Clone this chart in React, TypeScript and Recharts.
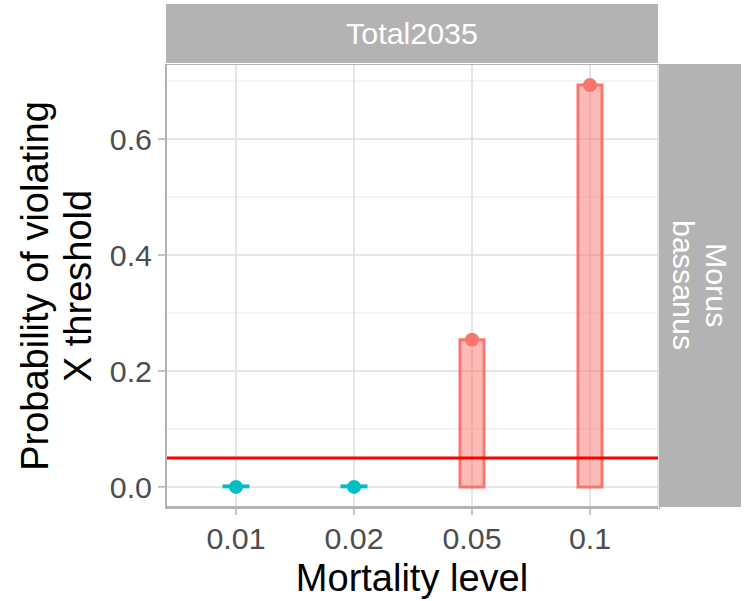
import React from "react";
import {
  Bar,
  CartesianGrid,
  Cell,
  ComposedChart,
  ReferenceLine,
  Scatter,
  XAxis,
  YAxis,
} from "recharts";

// Mortality levels on the x axis and the probability of violating the threshold
const mortalityLevels = ["0.01", "0.02", "0.05", "0.1"];
const violationProb = [0, 0, 0.254, 0.693];
const aboveThreshold = [false, false, true, true];

const THRESHOLD = 0.05;
const yMajorTicks = [0, 0.2, 0.4, 0.6];
const yMinorTicks = [0.1, 0.3, 0.5, 0.7];

const RED = "#F8766D";
const TEAL = "#00BFC4";
const STRIP = "#B3B3B3";
const FONT = "'Liberation Sans', Arial, Helvetica, sans-serif";

const data = mortalityLevels.map((level, i) => ({
  level,
  prob: violationProb[i],
  color: aboveThreshold[i] ? RED : TEAL,
}));

const W = 744;
const H = 601;
const PLOT = { left: 166, top: 65, right: 658, bottom: 507 };

function YTitle({ viewBox }: any) {
  const cy = viewBox.y + viewBox.height / 2;
  return (
    <text
      transform={`translate(0, ${cy}) rotate(-90)`}
      textAnchor="middle"
      fontFamily={FONT}
      fontSize={38}
      fill="#000"
    >
      <tspan x={0} y={48}>
        Probability of violating
      </tspan>
      <tspan x={0} y={91}>
        X threshold
      </tspan>
    </text>
  );
}

function XTitle({ viewBox }: any) {
  return (
    <text
      x={viewBox.x + viewBox.width / 2}
      y={viewBox.y + 84}
      textAnchor="middle"
      fontFamily={FONT}
      fontSize={38}
      fill="#000"
    >
      Mortality level
    </text>
  );
}

function Dot(props: any) {
  const { cx, cy, payload } = props;
  return <circle cx={cx} cy={cy} r={7} fill={payload.color} />;
}

export default function App() {
  return (
    <div
      style={{
        position: "absolute",
        left: 0,
        top: 0,
        width: W,
        height: H,
        background: "#fff",
        fontFamily: FONT,
      }}
    >
      <ComposedChart
        width={W}
        height={H}
        data={data}
        margin={{ top: PLOT.top, right: W - PLOT.right, bottom: 0, left: 0 }}
      >
        <CartesianGrid
          horizontalValues={yMinorTicks}
          vertical={false}
          stroke="#EBEBEB"
          strokeWidth={1}
        />
        <CartesianGrid
          horizontalValues={yMajorTicks}
          stroke="#DEDEDE"
          strokeWidth={1.5}
        />
        <XAxis
          dataKey="level"
          type="category"
          height={H - PLOT.bottom}
          padding={{ left: 11, right: 9 }}
          axisLine={{ stroke: STRIP, strokeWidth: 2 }}
          tickLine={{ stroke: STRIP, strokeWidth: 1.5 }}
          tickSize={8}
          tickMargin={12}
          tick={{ fill: "#4D4D4D", fontSize: 30.4, fontFamily: FONT }}
          label={<XTitle />}
        />
        <YAxis
          type="number"
          width={PLOT.left}
          domain={[-0.0347, 0.7277]}
          ticks={yMajorTicks}
          allowDataOverflow
          tickFormatter={(v: number) => v.toFixed(1)}
          axisLine={{ stroke: STRIP, strokeWidth: 2 }}
          tickLine={{ stroke: STRIP, strokeWidth: 1.5 }}
          tickSize={8}
          tickMargin={6}
          tick={{ fill: "#4D4D4D", fontSize: 30.4, fontFamily: FONT }}
          label={<YTitle />}
        />
        <Bar
          dataKey="prob"
          barSize={24}
          minPointSize={1}
          fillOpacity={0.5}
          strokeWidth={3}
          isAnimationActive={false}
        >
          {data.map((d) => (
            <Cell key={d.level} fill={d.color} stroke={d.color} />
          ))}
        </Bar>
        <ReferenceLine y={THRESHOLD} stroke="#FF0000" strokeWidth={3} />
        <Scatter dataKey="prob" shape={<Dot />} isAnimationActive={false} />
      </ComposedChart>

      {/* panel border */}
      <div
        style={{
          position: "absolute",
          left: PLOT.left - 1,
          top: PLOT.top - 1,
          width: PLOT.right - PLOT.left + 1,
          height: PLOT.bottom - PLOT.top + 1,
          border: `1px solid ${STRIP}`,
          pointerEvents: "none",
        }}
      />

      {/* top facet strip */}
      <div
        style={{
          position: "absolute",
          left: PLOT.left,
          top: 4,
          width: PLOT.right - PLOT.left,
          height: 59,
          background: STRIP,
          color: "#fff",
          fontSize: 30.4,
          display: "flex",
          alignItems: "center",
          justifyContent: "center",
        }}
      >
        Total2035
      </div>

      {/* right facet strip */}
      <div
        style={{
          position: "absolute",
          left: PLOT.right + 1,
          top: PLOT.top - 1,
          width: 82,
          height: PLOT.bottom - PLOT.top + 1,
          background: STRIP,
          color: "#fff",
          fontSize: 30.4,
          display: "flex",
          alignItems: "center",
          justifyContent: "center",
        }}
      >
        <div
          style={{
            writingMode: "vertical-rl",
            textAlign: "center",
            lineHeight: "33px",
          }}
        >
          Morus
          <br />
          bassanus
        </div>
      </div>
    </div>
  );
}
